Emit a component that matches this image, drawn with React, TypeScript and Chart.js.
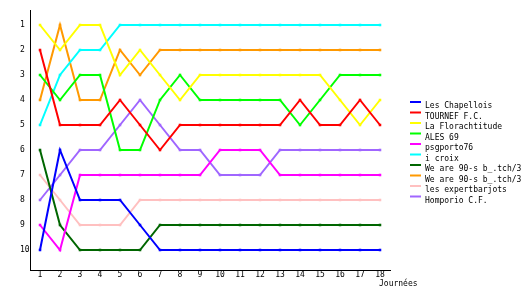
import React, { useEffect, useRef } from "react";
import { Chart, registerables } from "chart.js";
Chart.register(...registerables);

const journees = ["1","2","3","4","5","6","7","8","9","10","11","12","13","14","15","16","17","18"];
const rankTicks = [1, 2, 3, 4, 5, 6, 7, 8, 9, 10];
const teamNames = [
  "Les Chapellois",
  "TOURNEF F.C.",
  "La Florachtitude",
  "ALES 69",
  "psgporto76",
  "i croix",
  "We are 90-s b_.tch/3",
  "We are 90-s b_.tch/3",
  "les expertbarjots",
  "Homporio C.F.",
];
const teamColors = ["#0000ff", "#ff0000", "#ffff00", "#00ff00", "#ff00ff", "#00ffff", "#006600", "#ff9900", "#ffc0c0", "#a066ff"];

const lesChapellois = [10, 6, 8, 8, 8, 9, 10, 10, 10, 10, 10, 10, 10, 10, 10, 10, 10, 10];
const tournef = [2, 5, 5, 5, 4, 5, 6, 5, 5, 5, 5, 5, 5, 4, 5, 5, 4, 5];
const florachtitude = [1, 2, 1, 1, 3, 2, 3, 4, 3, 3, 3, 3, 3, 3, 3, 4, 5, 4];
const ales69 = [3, 4, 3, 3, 6, 6, 4, 3, 4, 4, 4, 4, 4, 5, 4, 3, 3, 3];
const psgporto76 = [9, 10, 7, 7, 7, 7, 7, 7, 7, 6, 6, 6, 7, 7, 7, 7, 7, 7];
const iCroix = [5, 3, 2, 2, 1, 1, 1, 1, 1, 1, 1, 1, 1, 1, 1, 1, 1, 1];
const weAre90a = [6, 9, 10, 10, 10, 10, 9, 9, 9, 9, 9, 9, 9, 9, 9, 9, 9, 9];
const weAre90b = [4, 1, 4, 4, 2, 3, 2, 2, 2, 2, 2, 2, 2, 2, 2, 2, 2, 2];
const expertbarjots = [7, 8, 9, 9, 9, 8, 8, 8, 8, 8, 8, 8, 8, 8, 8, 8, 8, 8];
const homporio = [8, 7, 6, 6, 5, 4, 5, 6, 6, 7, 7, 7, 6, 6, 6, 6, 6, 6];

const seriesValues = [lesChapellois, tournef, florachtitude, ales69, psgporto76, iCroix, weAre90a, weAre90b, expertbarjots, homporio];

const FONT = "'DejaVu Sans Mono', monospace";

const extrasPlugin = {
  id: "extras",
  afterDraw(chart: any) {
    const ctx = chart.ctx;
    ctx.save();
    ctx.font = `8px ${FONT}`;
    ctx.fillStyle = "#000";
    ctx.textBaseline = "top";
    ctx.textAlign = "left";
    ctx.fillText("Journées", 379, 280);
    teamNames.forEach((name, i) => {
      const y = 102 + i * 10.5;
      ctx.strokeStyle = teamColors[i];
      ctx.lineWidth = 2;
      ctx.beginPath();
      ctx.moveTo(410, y);
      ctx.lineTo(421, y);
      ctx.stroke();
      ctx.fillStyle = "#000";
      ctx.fillText(name, 425, y);
    });
    ctx.restore();
  },
};

export default function App() {
  const ref = useRef<HTMLCanvasElement | null>(null);
  useEffect(() => {
    if (!ref.current) return;
    const chart = new Chart(ref.current, {
      type: "line",
      data: {
        labels: journees,
        datasets: seriesValues.map((vals, i) => ({
          label: teamNames[i],
          data: vals,
          borderColor: teamColors[i],
          backgroundColor: teamColors[i],
          borderWidth: 2,
          pointStyle: "rect",
          pointRadius: 1.8,
          pointBorderWidth: 0,
          tension: 0,
          fill: false,
        })),
      },
      options: {
        animation: false,
        responsive: false,
        layout: { padding: { left: 20, top: 10, right: 140, bottom: 0 } },
        plugins: { legend: { display: false }, tooltip: { enabled: false } },
        scales: {
          x: {
            type: "category",
            offset: true,
            grid: { display: false, drawTicks: false },
            border: { display: true, color: "#000", width: 1 },
            ticks: { color: "#000", font: { family: FONT, size: 8 }, padding: 0, maxRotation: 0, autoSkip: false },
            afterFit: (s: any) => { s.height = 30; },
          },
          y: {
            type: "linear",
            reverse: true,
            min: 0.4,
            max: 10.8,
            grid: { display: false, drawTicks: false },
            border: { display: true, color: "#000", width: 1 },
            ticks: { color: "#000", font: { family: FONT, size: 8 }, padding: 0, crossAlign: "far" },
            afterBuildTicks: (s: any) => { s.ticks = rankTicks.map((v) => ({ value: v })); },
            afterFit: (s: any) => { s.width = 10; },
          },
        },
      },
      plugins: [extrasPlugin],
    });
    return () => chart.destroy();
  }, []);
  return (
    <div style={{ position: "absolute", left: 0, top: 0, width: 530, height: 300, background: "#fff" }}>
      <canvas ref={ref} width={530} height={300} />
    </div>
  );
}
